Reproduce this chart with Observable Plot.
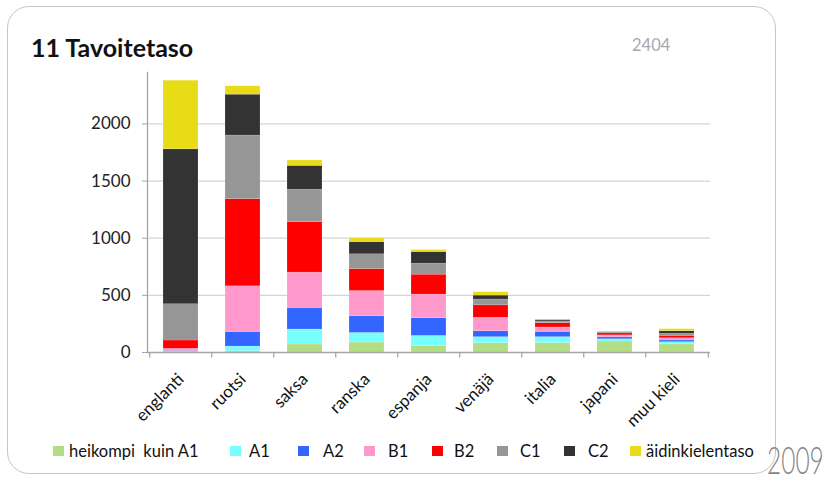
<!DOCTYPE html>
<html><head><meta charset="utf-8">
<script src="https://cdn.jsdelivr.net/npm/d3@7"></script>
<script src="https://cdn.jsdelivr.net/npm/@observablehq/plot@0.6"></script>
<style>
body{margin:0;background:#fff;font-family:Lato,"Open Sans",sans-serif;}
#wrap{position:relative;width:831px;height:479px;overflow:hidden;}
#box{position:absolute;left:7px;top:6px;width:767px;height:466px;border:1.5px solid #c6c6c6;border-radius:22px;}
#chart{position:absolute;left:0;top:0;}
#title{position:absolute;left:31px;top:32px;font-size:25px;font-weight:bold;color:#111;}
#num{position:absolute;left:632px;top:35px;font-size:16.5px;color:#a8a8a8;}
#year{position:absolute;left:765px;top:428px;overflow:visible;}
#legend{position:absolute;left:53px;top:441px;display:flex;align-items:center;font-size:16.5px;color:#111;}
#legend .it{display:flex;align-items:center;}
#legend .sw{width:11px;height:10px;}
</style></head>
<body>
<div id="wrap">
  <div id="box"></div>
  <div id="chart"></div>
  <div id="title">11 Tavoitetaso</div>
  <div id="num">2404</div>
  <div id="legend"></div>
  <svg id="year" width="66" height="51"><text transform="translate(2,46) scale(1,1.5)" font-family="Lato, sans-serif" font-weight="300" font-size="24.5" fill="#858585">2009</text></svg>
</div>
<script>
const categories = ["englanti","ruotsi","saksa","ranska","espanja","venäjä","italia","japani","muu kieli"];
const levels = ["heikompi  kuin A1","A1","A2","B1","B2","C1","C2","äidinkielentaso"];
const levelColors = ["#b3dd84","#77ffff","#3366ff","#ff99cc","#ff0000","#969696","#333333","#e8dc16"];
const heikompi = [3, 11, 70, 87, 55, 81, 82, 96, 71];
const A1 = [3, 41, 131, 84, 90, 53, 52, 20, 19];
const A2 = [8, 128, 189, 146, 155, 52, 47, 17, 15];
const B1 = [18, 399, 309, 221, 207, 118, 38, 17, 20];
const B2 = [73, 763, 442, 192, 174, 109, 38, 18, 21];
const C1 = [317, 556, 283, 129, 96, 50, 15, 5, 17];
const C2 = [1356, 358, 209, 107, 102, 35, 12, 5, 23];
const aidinkieli = [600, 73, 47, 35, 17, 29, 5, 5, 18];
const yTicks = [0, 500, 1000, 1500, 2000];
const gridTicks = [500, 1000, 1500, 2000];

const seriesList = [heikompi, A1, A2, B1, B2, C1, C2, aidinkieli];
const table = [];
seriesList.forEach((s, li) => s.forEach((v, ci) => table.push({cat: categories[ci], level: levels[li], value: v})));

const W = 831, H = 479, mL = 147, mR = 121, mT = 72, mB = 127;
const pIn = 0.44, pOut = 0.22;
const step = (W - mL - mR) / (categories.length - pIn + 2 * pOut);

const chart = Plot.plot({
  width: W, height: H,
  marginLeft: mL, marginRight: mR, marginTop: mT, marginBottom: mB,
  style: {fontFamily: "Lato, 'Open Sans', sans-serif", fontSize: "17px", color: "#111", background: "transparent"},
  x: {domain: categories, paddingInner: pIn, paddingOuter: pOut, label: null},
  y: {domain: [0, 2450], label: null},
  color: {domain: levels, range: levelColors},
  marks: [
    Plot.gridY(gridTicks, {stroke: "#d4d4d4", strokeOpacity: 1, strokeWidth: 1.3}),
    Plot.barY(table, {x: "cat", y: "value", fill: "level", order: levels, stroke: "#fff", strokeOpacity: 0.25, strokeWidth: 0.6}),
    Plot.ruleY([0], {stroke: "#a6a6a6", strokeWidth: 1.3}),
    Plot.frame({anchor: "left", stroke: "#a6a6a6", strokeWidth: 1.3}),
    Plot.ruleX(categories, {x: d => d, y1: 0, y2: -48, dx: -step / 2, stroke: "#a6a6a6", strokeWidth: 1.3}),
    Plot.ruleX(categories.slice(-1), {x: d => d, y1: 0, y2: -48, dx: step / 2, stroke: "#a6a6a6", strokeWidth: 1.3}),
    Plot.axisY(yTicks, {tickSize: 5, tickPadding: 12, stroke: "#a6a6a6", fontSize: 17, fill: "#222", label: null, tickFormat: d => String(d)}),
    Plot.axisX({tickSize: 0, tickPadding: 24, tickRotate: -45, fontSize: 17, fill: "#111", label: null})
  ]
});
document.getElementById("chart").appendChild(chart);

const itemWidths = [177, 68, 66, 68, 65, 67, 66, null];
const swGap = [5, 8, 14, 13, 11, 12, 13, 5];
const leg = document.getElementById("legend");
levels.forEach((l, i) => {
  const it = document.createElement("div"); it.className = "it";
  if (itemWidths[i]) it.style.width = itemWidths[i] + "px";
  const sw = document.createElement("div"); sw.className = "sw"; sw.style.background = levelColors[i];
  sw.style.marginRight = swGap[i] + "px";
  const t = document.createElement("span"); t.textContent = l; t.style.whiteSpace = "pre";
  it.appendChild(sw); it.appendChild(t); leg.appendChild(it);
});
</script>
</body></html>
